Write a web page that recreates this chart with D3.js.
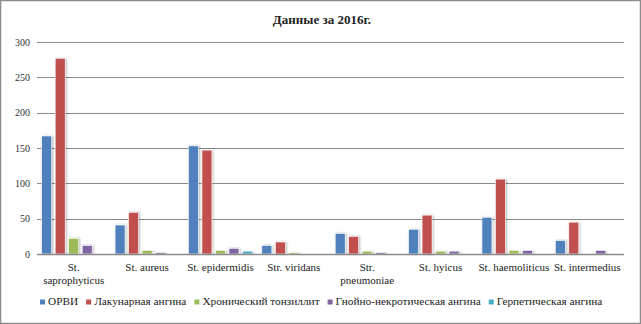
<!DOCTYPE html>
<html>
<head>
<meta charset="utf-8">
<script src="https://cdn.jsdelivr.net/npm/d3@7"></script>
<style>
  body { margin: 0; background: #fff; }
  text { font-family: "Liberation Serif", "DejaVu Serif", serif; }
</style>
</head>
<body>
<svg id="chart"></svg>
<script>
// data
const categories = ["St. saprophyticus", "St. aureus", "St. epidermidis", "Str. viridans",
  "Str. pneumoniae", "St. hyicus", "St. haemoliticus", "St. intermedius"];
const series = ["ОРВИ", "Лакунарная ангина", "Хронический тонзиллит",
  "Гнойно-некротическая ангина", "Герпетическая ангина"];
const orvi = [167, 41, 153, 12, 29, 35, 52, 19];
const lacunar = [277, 59, 147, 17, 25, 55, 106, 45];
const chronic = [22, 5, 5, 2, 4, 4, 5, 0];
const purulent = [12, 2, 8, 0, 2, 4, 5, 5];
const herpetic = [0, 0, 4, 0, 0, 0, 0, 0];
const yTicks = [0, 50, 100, 150, 200, 250, 300];
const colors = ["#4F81BD", "#C0504D", "#9BBB59", "#8064A2", "#4BACC6"];

const values = [orvi, lacunar, chronic, purulent, herpetic];
const width = 641, height = 324;
const plot = { left: 37, right: 624, top: 42, bottom: 254 };

const svg = d3.select("#chart").attr("width", width).attr("height", height);

svg.append("rect")
  .attr("x", 0.5).attr("y", 0.5)
  .attr("width", width - 1).attr("height", height - 1)
  .attr("fill", "#fff").attr("stroke", "#8c8c8c").attr("stroke-width", 1.5);

const defs = svg.append("defs");
const shadow = defs.append("filter").attr("id", "shadow")
  .attr("x", "-30%").attr("y", "-10%").attr("width", "160%").attr("height", "120%");
shadow.append("feDropShadow")
  .attr("dx", 1).attr("dy", 0).attr("stdDeviation", 0.8)
  .attr("flood-color", "#000").attr("flood-opacity", 0.3);

svg.append("text")
  .attr("x", 322).attr("y", 24)
  .attr("text-anchor", "middle")
  .attr("font-size", 13).attr("font-weight", "bold")
  .attr("fill", "#222")
  .text("Данные за 2016г.");

const x = d3.scaleBand().domain(categories)
  .range([plot.left, plot.right]).paddingInner(0.128).paddingOuter(0.064);
const xs = d3.scaleBand().domain(series).range([0, x.bandwidth()]).paddingInner(0.26);
const y = d3.scaleLinear().domain([0, 300]).range([plot.bottom, plot.top]);

// gridlines
svg.append("g").selectAll("line")
  .data(yTicks.filter(d => d > 0))
  .enter().append("line")
  .attr("x1", plot.left).attr("x2", plot.right)
  .attr("y1", d => Math.round(y(d)) + 0.5).attr("y2", d => Math.round(y(d)) + 0.5)
  .attr("stroke", "#8a8a8a").attr("stroke-width", 1);

// y axis labels
const yAxis = svg.append("g")
  .attr("transform", `translate(${plot.left},0)`)
  .call(d3.axisLeft(y).tickValues(yTicks).tickSize(0).tickPadding(7));
yAxis.select(".domain").remove();
yAxis.selectAll("text")
  .attr("font-family", "'DejaVu Sans', sans-serif")
  .attr("font-size", 10).attr("fill", "#333");

// bars
series.forEach((s, si) => {
  svg.append("g")
    .selectAll("rect")
    .data(categories.map((c, ci) => ({ c, v: values[si][ci] })).filter(d => d.v > 0))
    .enter().append("rect")
    .attr("x", d => x(d.c) + xs(s))
    .attr("y", d => y(d.v))
    .attr("width", xs.bandwidth())
    .attr("height", d => y(0) - y(d.v))
    .attr("fill", colors[si])
    .attr("stroke", "#fff").attr("stroke-width", 0.6)
    .attr("filter", "url(#shadow)");
});

// x axis line
svg.append("line")
  .attr("x1", plot.left).attr("x2", plot.right)
  .attr("y1", plot.bottom + 0.5).attr("y2", plot.bottom + 0.5)
  .attr("stroke", "#8a8a8a").attr("stroke-width", 1.5);

// category labels (wrap long ones like Excel)
const wrapped = {
  "St. saprophyticus": ["St.", "saprophyticus"],
  "Str. pneumoniae": ["Str.", "pneumoniae"]
};
categories.forEach(c => {
  const lines = wrapped[c] || [c];
  const t = svg.append("text")
    .attr("x", x(c) + x.bandwidth() / 2)
    .attr("y", 271)
    .attr("text-anchor", "middle")
    .attr("font-size", 11).attr("fill", "#222");
  lines.forEach((l, i) => {
    t.append("tspan")
      .attr("x", x(c) + x.bandwidth() / 2)
      .attr("dy", i === 0 ? 0 : 13)
      .text(l);
  });
});

// legend
const legend = svg.append("g").attr("transform", "translate(40,305)");
let lx = 0;
series.forEach((s, i) => {
  const g = legend.append("g").attr("transform", `translate(${lx},0)`);
  g.append("rect")
    .attr("x", 0).attr("y", -5.5).attr("width", 5).attr("height", 5)
    .attr("fill", colors[i]);
  const t = g.append("text")
    .attr("x", 8).attr("y", 0)
    .attr("font-size", 11.3).attr("fill", "#222")
    .text(s);
  lx += 8 + t.node().getComputedTextLength() + 8;
});
</script>
</body>
</html>
